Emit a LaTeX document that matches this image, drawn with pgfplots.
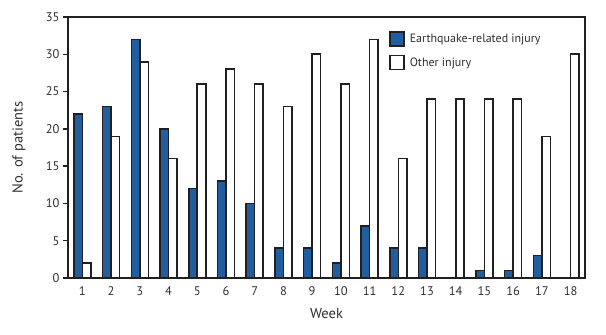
\documentclass[border=0pt]{standalone}
\usepackage{pgfplots}
\pgfplotsset{compat=1.18}
\usepackage{fontspec}
\setmainfont{PT Sans}
\definecolor{eqblue}{RGB}{33,94,160}
\definecolor{txt}{RGB}{50,45,45}
\definecolor{edge}{RGB}{35,31,32}
\begin{document}
\begin{tikzpicture}[x=1pt,y=1pt]
\useasboundingbox (-68,-57) rectangle (538,278);
\begin{axis}[
  at={(0,0)}, anchor=south west,
  scale only axis, width=517pt, height=261pt,
  xmin=0.5, xmax=18.5, ymin=0, ymax=35,
  xtick={1,...,18}, ytick={0,5,...,35},
  xtick style={draw=none},
  ytick style={draw=edge, line width=1.5pt},
  tick align=outside, major tick length=5pt,
  ytick pos=left,
  axis line style={draw=edge, line width=1.7pt},
  tick label style={font=\fontsize{12.5}{14}\selectfont, text=txt},
  /pgf/number format/assume math mode=true,
  xlabel={Week}, ylabel={No. of patients},
  label style={font=\fontsize{14.5}{16}\selectfont, text=txt},
  xlabel style={at={(axis description cs:0.5,0)}, anchor=north, yshift=-27pt},
  ylabel style={at={(axis description cs:0,0.5)}, anchor=south, yshift=39pt},
  ybar, bar width=8.5pt,
  legend style={draw=none, fill=none, at={(0.615,0.955)}, anchor=north west,
    font=\fontsize{12}{14}\selectfont, text=txt, row sep=8pt,
    legend cell align=left, nodes={inner xsep=5pt}},
  legend image code/.code={\draw[#1, line width=1.6pt] (0pt,-6.5pt) rectangle (14pt,7.5pt);},
]
\addplot+[bar shift=-4.25pt, fill=eqblue, draw=edge, line width=1.6pt] coordinates {
(1,22) (2,23) (3,32) (4,20) (5,12) (6,13) (7,10) (8,4) (9,4) (10,2) (11,7) (12,4) (13,4) (14,0) (15,1) (16,1) (17,3) (18,0)};
\addlegendentry{Earthquake-related injury}
\addplot+[bar shift=4.25pt, fill=white, draw=edge, line width=1.6pt] coordinates {
(1,2) (2,19) (3,29) (4,16) (5,26) (6,28) (7,26) (8,23) (9,30) (10,26) (11,32) (12,16) (13,24) (14,24) (15,24) (16,24) (17,19) (18,30)};
\addlegendentry{Other injury}
\end{axis}
\end{tikzpicture}
\end{document}
